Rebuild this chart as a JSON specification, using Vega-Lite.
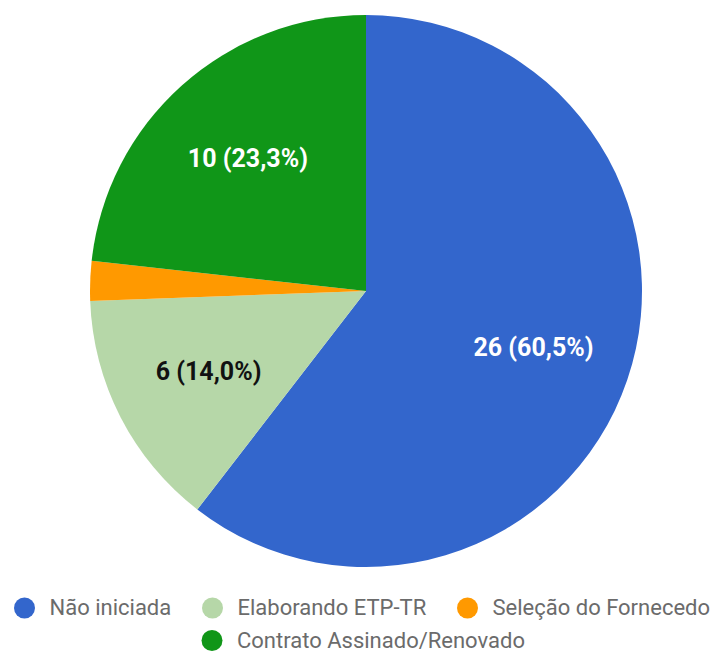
{
  "$schema": "https://vega.github.io/schema/vega-lite/v6.json",
  "width": 702,
  "height": 582,
  "autosize": {"type": "none"},
  "padding": {"left": 15, "top": 0, "right": 0, "bottom": 69},
  "background": "white",
  "config": {"view": {"stroke": null}, "font": "Roboto"},
  "data": {
    "values": [
      {"categoria": "Não iniciada", "quantidade": 26, "ordem": 1, "rotulo": "26 (60,5%)"},
      {"categoria": "Elaborando ETP-TR", "quantidade": 6, "ordem": 2, "rotulo": "6 (14,0%)"},
      {"categoria": "Seleção do Fornecedor", "quantidade": 1, "ordem": 3, "rotulo": ""},
      {"categoria": "Contrato Assinado/Renovado", "quantidade": 10, "ordem": 4, "rotulo": "10 (23,3%)"}
    ]
  },
  "encoding": {
    "theta": {"field": "quantidade", "type": "quantitative", "stack": true},
    "order": {"field": "ordem", "type": "quantitative"}
  },
  "layer": [
    {
      "mark": {"type": "arc", "outerRadius": 276, "opacity": 0},
      "encoding": {
        "fill": {
          "field": "categoria",
          "type": "nominal",
          "scale": {"domain": ["Contrato Assinado/Renovado"], "range": ["#109618"]},
          "legend": {
            "title": null,
            "orient": "none",
            "legendX": 186,
            "legendY": 629.5,
            "direction": "horizontal",
            "padding": 0,
            "symbolType": "circle",
            "symbolSize": 440,
            "symbolOpacity": 1,
            "symbolStrokeWidth": 0,
            "labelFont": "Roboto",
            "labelFontSize": 22,
            "labelColor": "#6b6b6b",
            "labelOffset": 14,
            "labelLimit": 400
          }
        }
      }
    },
    {
      "mark": {"type": "arc", "outerRadius": 276},
      "encoding": {
        "color": {
          "field": "categoria",
          "type": "nominal",
          "scale": {
            "domain": ["Não iniciada", "Elaborando ETP-TR", "Seleção do Fornecedor", "Contrato Assinado/Renovado"],
            "range": ["#3366cc", "#b6d7a8", "#ff9900", "#109618"]
          },
          "legend": {
            "values": ["Não iniciada", "Elaborando ETP-TR", "Seleção do Fornecedor"],
            "title": null,
            "orient": "none",
            "legendX": -1.5,
            "legendY": 597,
            "direction": "horizontal",
            "columns": 3,
            "columnPadding": 30,
            "padding": 0,
            "symbolType": "circle",
            "symbolSize": 440,
            "symbolStrokeWidth": 0,
            "labelFont": "Roboto",
            "labelFontSize": 22,
            "labelColor": "#6b6b6b",
            "labelOffset": 14,
            "labelLimit": 400,
            "labelExpr": "datum.label == 'Seleção do Fornecedor' ? 'Seleção do Fornecedo' : datum.label"
          }
        }
      }
    },
    {
      "mark": {"type": "text", "radius": 177, "font": "Roboto", "fontWeight": "bold", "fontSize": 25},
      "encoding": {
        "text": {"field": "rotulo", "type": "nominal"},
        "color": {
          "condition": {"test": "datum.categoria === 'Elaborando ETP-TR'", "value": "#111111"},
          "value": "#ffffff"
        }
      }
    }
  ]
}
